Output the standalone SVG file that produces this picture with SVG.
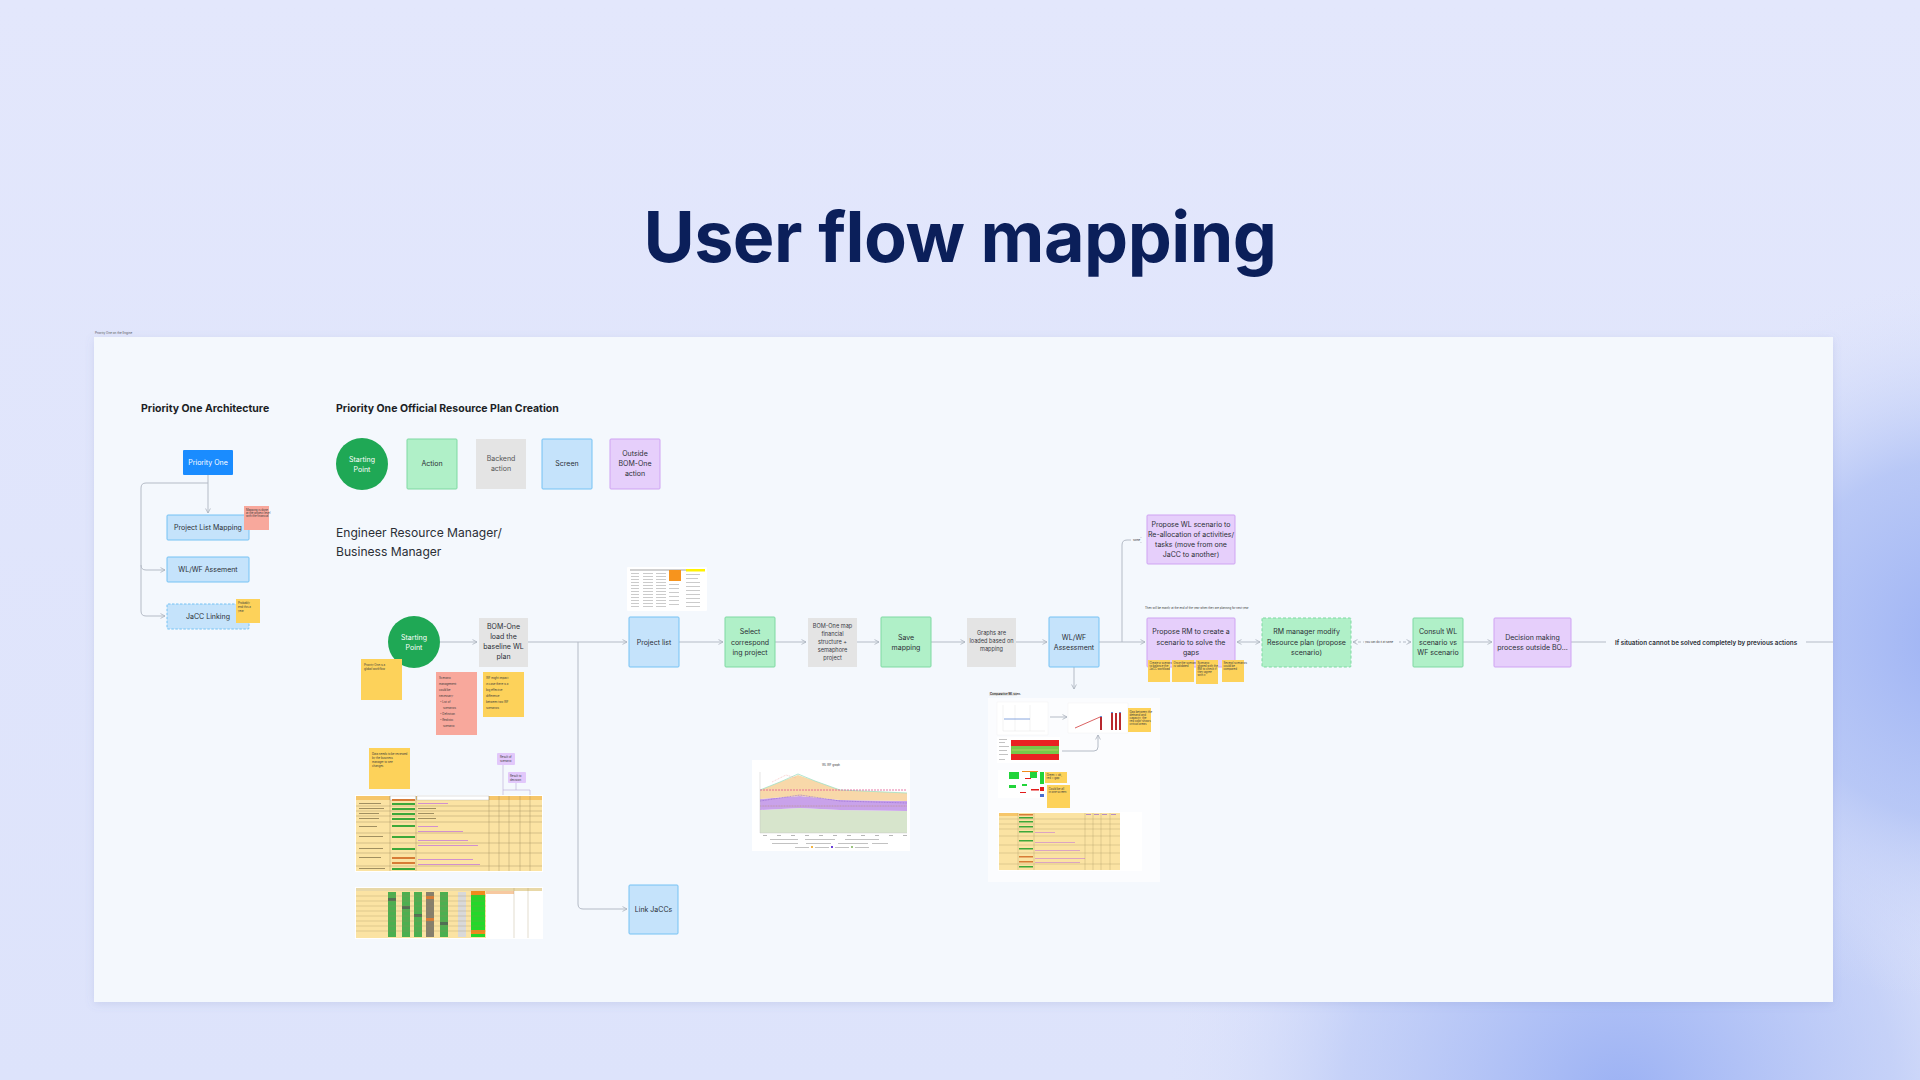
<svg xmlns="http://www.w3.org/2000/svg" width="1920" height="1080" viewBox="0 0 1920 1080">
<defs>
<linearGradient id="bg" x1="0" y1="0" x2="0" y2="1">
<stop offset="0" stop-color="#e3e7fc"/>
<stop offset="1" stop-color="#dde3fb"/>
</linearGradient>
<radialGradient id="glow1" cx="1620" cy="1100" r="460" gradientUnits="userSpaceOnUse">
<stop offset="0" stop-color="#9bb1f4"/>
<stop offset="0.6" stop-color="#b6c6f6" stop-opacity="0.6"/>
<stop offset="1" stop-color="#dde3fb" stop-opacity="0"/>
</radialGradient>
<radialGradient id="glow2" cx="1960" cy="640" r="360" gradientUnits="userSpaceOnUse">
<stop offset="0" stop-color="#9db2f4"/>
<stop offset="0.5" stop-color="#afc1f5" stop-opacity="0.8"/>
<stop offset="1" stop-color="#dde3fb" stop-opacity="0"/>
</radialGradient>
<filter id="sh" x="-5%" y="-5%" width="110%" height="115%">
<feDropShadow dx="0" dy="2" stdDeviation="4" flood-color="#6b7bb8" flood-opacity="0.18"/>
</filter>
<marker id="ah" viewBox="0 0 6 6" refX="5.5" refY="3" markerWidth="6" markerHeight="6" orient="auto-start-reverse" markerUnits="userSpaceOnUse">
<path d="M1 0.6 L5.5 3 L1 5.4" fill="none" stroke="#a9b1bd" stroke-width="0.8"/>
</marker>
<style>
.t{font-family:Inter,"Liberation Sans",sans-serif;}
.h{font-family:Inter,"Liberation Sans",sans-serif;font-weight:700;fill:#1c1f26;}
.lbl{font-family:Inter,"Liberation Sans",sans-serif;font-size:7px;fill:#2b2f36;text-anchor:middle;}
.sm{font-family:Inter,"Liberation Sans",sans-serif;font-size:5.6px;fill:#3a3d44;text-anchor:middle;}
.tiny{font-family:Inter,"Liberation Sans",sans-serif;font-size:2.8px;fill:#3a3a3a;}
.c{fill:none;stroke:#b4bbc6;stroke-width:1;}
.ca{fill:none;stroke:#b4bbc6;stroke-width:1;marker-end:url(#ah);}
.green{fill:#b0f0c8;stroke:#7fd9a2;stroke-width:1;}
.grey{fill:#e4e4e4;}
.blue{fill:#c5e3fb;stroke:#74c2f4;stroke-width:1;}
.purple{fill:#e6cffb;stroke:#cfa3f2;stroke-width:1;}
.start{fill:#1fa855;}
.ysticky{fill:#fdd25a;}
.psticky{fill:#f8a89c;}
.shot{fill:#ffffff;}
</style>
</defs>

<rect x="0" y="0" width="1920" height="1080" fill="url(#bg)"/>
<rect x="0" y="0" width="1920" height="1080" fill="url(#glow1)"/>
<rect x="0" y="0" width="1920" height="1080" fill="url(#glow2)"/>

<text class="t" x="960" y="262" font-size="70" font-weight="700" fill="#0b1f5a" text-anchor="middle" letter-spacing="-0.5">User flow mapping</text>

<text class="t" x="95" y="334" font-size="3" fill="#555">Priority One on the Engine</text>
<rect id="canvas" x="94" y="337" width="1739" height="665" fill="#f4f8fd" filter="url(#sh)"/>

<!-- headings -->
<text class="h" x="141" y="412" font-size="10.5">Priority One Architecture</text>
<text class="h" x="336" y="412" font-size="10.5">Priority One Official Resource Plan Creation</text>
<text class="t" x="336" y="537" font-size="12.1" fill="#2b2f36">Engineer Resource Manager/</text>
<text class="t" x="336" y="556" font-size="12.1" fill="#2b2f36">Business Manager</text>

<!-- connectors -->
<g id="connectors">
<path class="ca" d="M208 475 V513"/>
<path class="c" d="M208 483 H146 Q141 483 141 488 V611 Q141 616 146 616 H165" marker-end="url(#ah)"/>
<path class="ca" d="M141 565 Q141 570 146 570 H165"/>
<path class="ca" d="M440 642 H477"/>
<path class="ca" d="M528 642 H627"/>
<path class="ca" d="M578 642 V904 Q578 909 583 909 H627"/>
<path class="ca" d="M679 642 H723"/>
<path class="ca" d="M775 642 H806"/>
<path class="ca" d="M857 642 H879"/>
<path class="ca" d="M931 642 H965"/>
<path class="ca" d="M1016 642 H1047"/>
<path class="ca" d="M1099 642 H1145"/>
<path class="ca" d="M1122 642 V545 Q1122 540 1127 540 H1145"/>
<rect x="1131" y="538" width="14" height="4" fill="#f4f8fd"/>
<text class="tiny" x="1133" y="541">some</text>
<path class="ca" d="M1074 667 V689"/>
<path class="ca" d="M1237 642 H1260" marker-start="url(#ah)"/>
<path class="ca" d="M1353 642 H1411" stroke-dasharray="3 2" marker-start="url(#ah)"/>
<rect x="1364" y="640" width="35" height="4" fill="#f4f8fd"/>
<text class="tiny" x="1365" y="643">you can do it at same</text>
<path class="ca" d="M1463 642 H1492"/>
<path class="c" d="M1571 642 H1606"/>
<path class="c" d="M1806 642 H1833"/>
<text class="t" x="1706" y="644.5" font-size="6.3" font-weight="600" fill="#2b2f36" text-anchor="middle">If situation cannot be solved completely by previous actions</text>
</g>

<!-- architecture -->
<g id="n-priority-one"><rect x="183" y="450" width="50" height="25" rx="1" fill="#1a8cff"/><text class="lbl" x="208" y="465" fill="#ffffff" style="fill:#fff" font-size="6.5">Priority One</text></g>
<g id="n-project-list-mapping"><rect class="blue" x="167" y="515" width="82" height="25" rx="1"/><text class="lbl" x="208" y="530" font-size="6.5">Project List Mapping</text></g>
<g id="n-wlwf-assement"><rect class="blue" x="167" y="557" width="82" height="25" rx="1"/><text class="lbl" x="208" y="572" font-size="6.5">WL/WF Assement</text></g>
<g id="n-jacc-linking"><rect class="blue" x="167" y="604" width="82" height="25" rx="1" stroke-dasharray="2.5 1.5"/><text class="lbl" x="208" y="619" font-size="6.5">JaCC Linking</text></g>
<g id="s-arch-pink"><rect class="psticky" x="244" y="506" width="25" height="24"/>
<text class="tiny" x="246" y="511" font-size="2">Mapping is done</text><text class="tiny" x="246" y="514" font-size="2">at the project level</text><text class="tiny" x="246" y="517" font-size="2">with the financial</text></g>
<g id="s-arch-yellow"><rect class="ysticky" x="236" y="599" width="24" height="24"/>
<text class="tiny" x="238" y="604">Probably</text><text class="tiny" x="238" y="608">end this a</text><text class="tiny" x="238" y="612">year</text></g>

<!-- legend -->
<g id="legend-start"><circle class="start" cx="362" cy="464" r="26"/><text class="lbl" x="362" y="462" style="fill:#fff" font-size="6">Starting</text><text class="lbl" x="362" y="472" style="fill:#fff" font-size="6">Point</text></g>
<g id="legend-action"><rect class="green" x="407" y="439" width="50" height="50" rx="1"/><text class="lbl" x="432" y="466" font-size="6.3">Action</text></g>
<g id="legend-backend"><rect class="grey" x="476" y="439" width="50" height="50"/><text class="lbl" x="501" y="461" font-size="6" style="fill:#555">Backend</text><text class="lbl" x="501" y="471" font-size="6" style="fill:#555">action</text></g>
<g id="legend-screen"><rect class="blue" x="542" y="439" width="50" height="50" rx="1"/><text class="lbl" x="567" y="466" font-size="6.3">Screen</text></g>
<g id="legend-outside"><rect class="purple" x="610" y="439" width="50" height="50" rx="1"/><text class="lbl" x="635" y="456" font-size="6.3">Outside</text><text class="lbl" x="635" y="466" font-size="6.3">BOM-One</text><text class="lbl" x="635" y="476" font-size="6.3">action</text></g>

<!-- main flow -->
<g id="n-start"><circle class="start" cx="414" cy="642" r="26"/><text class="lbl" x="414" y="640" style="fill:#fff" font-size="6.3">Starting</text><text class="lbl" x="414" y="650" style="fill:#fff" font-size="6.3">Point</text></g>
<g id="s-start"><rect class="ysticky" x="361" y="659" width="41" height="41"/><text class="tiny" x="364" y="666">Priority One is a</text><text class="tiny" x="364" y="670">global workflow</text></g>
<g id="n-bom-load"><rect class="grey" x="479" y="618" width="49" height="49"/><text class="lbl" x="503.5" y="629" font-size="6.3">BOM-One</text><text class="lbl" x="503.5" y="639" font-size="6.3">load the</text><text class="lbl" x="503.5" y="649" font-size="6.3">baseline WL</text><text class="lbl" x="503.5" y="659" font-size="6.3">plan</text></g>
<g id="s-scenario"><rect class="psticky" x="436" y="672" width="41" height="63"/>
<text class="tiny" x="439" y="679">Scenario</text><text class="tiny" x="439" y="685">management</text><text class="tiny" x="439" y="691">could be</text><text class="tiny" x="439" y="697">necessary:</text><text class="tiny" x="440" y="703">• List of</text><text class="tiny" x="443" y="709">scenarios</text><text class="tiny" x="440" y="715">• Definition</text><text class="tiny" x="440" y="721">• Realistic</text><text class="tiny" x="443" y="727">scenario</text></g>
<g id="s-wf-impact"><rect class="ysticky" x="483" y="672" width="41" height="45"/>
<text class="tiny" x="486" y="679">WF might impact</text><text class="tiny" x="486" y="685">in case there is a</text><text class="tiny" x="486" y="691">big effective</text><text class="tiny" x="486" y="697">difference</text><text class="tiny" x="486" y="703">between two WF</text><text class="tiny" x="486" y="709">scenarios</text></g>

<!-- project list screenshot -->
<g id="img-project-list">
<rect class="shot" x="627" y="567" width="80" height="44" rx="1"/>
<rect x="630" y="569" width="74" height="2" fill="#d0d0d0"/>
<rect x="686" y="569" width="19" height="2.5" fill="#fff200"/>
<rect x="669" y="570" width="12" height="11" fill="#f7941d"/>
<g fill="#bfbfbf">
<rect x="631" y="573" width="8" height="0.8"/><rect x="631" y="576" width="8" height="0.8"/><rect x="631" y="579" width="8" height="0.8"/><rect x="631" y="582" width="8" height="0.8"/><rect x="631" y="585" width="8" height="0.8"/><rect x="631" y="588" width="8" height="0.8"/><rect x="631" y="591" width="8" height="0.8"/><rect x="631" y="594" width="8" height="0.8"/><rect x="631" y="597" width="8" height="0.8"/><rect x="631" y="600" width="8" height="0.8"/><rect x="631" y="603" width="8" height="0.8"/><rect x="631" y="606" width="8" height="0.8"/>
<rect x="643" y="573" width="10" height="0.8"/><rect x="643" y="576" width="10" height="0.8"/><rect x="643" y="579" width="10" height="0.8"/><rect x="643" y="582" width="10" height="0.8"/><rect x="643" y="585" width="10" height="0.8"/><rect x="643" y="588" width="10" height="0.8"/><rect x="643" y="591" width="10" height="0.8"/><rect x="643" y="594" width="10" height="0.8"/><rect x="643" y="597" width="10" height="0.8"/><rect x="643" y="600" width="10" height="0.8"/><rect x="643" y="603" width="10" height="0.8"/><rect x="643" y="606" width="10" height="0.8"/>
<rect x="656" y="573" width="10" height="0.8"/><rect x="656" y="576" width="10" height="0.8"/><rect x="656" y="579" width="10" height="0.8"/><rect x="656" y="582" width="10" height="0.8"/><rect x="656" y="585" width="10" height="0.8"/><rect x="656" y="588" width="10" height="0.8"/><rect x="656" y="591" width="10" height="0.8"/><rect x="656" y="594" width="10" height="0.8"/><rect x="656" y="597" width="10" height="0.8"/><rect x="656" y="600" width="10" height="0.8"/><rect x="656" y="603" width="10" height="0.8"/><rect x="656" y="606" width="10" height="0.8"/>
<rect x="669" y="584" width="10" height="0.8"/><rect x="669" y="588" width="10" height="0.8"/><rect x="669" y="592" width="10" height="0.8"/><rect x="669" y="596" width="10" height="0.8"/><rect x="669" y="600" width="10" height="0.8"/><rect x="669" y="604" width="10" height="0.8"/>
<rect x="686" y="574" width="14" height="0.8"/><rect x="686" y="578" width="12" height="0.8"/><rect x="686" y="582" width="14" height="0.8"/><rect x="686" y="586" width="14" height="0.8"/><rect x="686" y="590" width="14" height="0.8"/><rect x="686" y="594" width="14" height="0.8"/><rect x="686" y="598" width="14" height="0.8"/><rect x="686" y="602" width="14" height="0.8"/><rect x="686" y="606" width="14" height="0.8"/>
</g>
</g>

<g id="n-project-list"><rect class="blue" x="629" y="617" width="50" height="50" rx="1"/><text class="lbl" x="654" y="644.5">Project list</text></g>
<g id="n-select"><rect class="green" x="725" y="617" width="50" height="50" rx="1"/><text class="lbl" x="750" y="634">Select</text><text class="lbl" x="750" y="644.5">correspond</text><text class="lbl" x="750" y="655">ing project</text></g>
<g id="n-bom-map"><rect class="grey" x="808" y="618" width="49" height="49"/><text class="sm" x="832.5" y="628">BOM-One map</text><text class="sm" x="832.5" y="636">financial</text><text class="sm" x="832.5" y="644">structure +</text><text class="sm" x="832.5" y="652">semaphore</text><text class="sm" x="832.5" y="660">project</text></g>
<g id="n-save"><rect class="green" x="881" y="617" width="50" height="50" rx="1"/><text class="lbl" x="906" y="639.5">Save</text><text class="lbl" x="906" y="650">mapping</text></g>
<g id="n-graphs"><rect class="grey" x="967" y="618" width="49" height="49"/><text class="sm" x="991.5" y="635">Graphs are</text><text class="sm" x="991.5" y="643">loaded based on</text><text class="sm" x="991.5" y="651">mapping</text></g>
<g id="n-wlwf"><rect class="blue" x="1049" y="617" width="50" height="50" rx="1"/><text class="lbl" x="1074" y="639.5">WL/WF</text><text class="lbl" x="1074" y="650">Assessment</text></g>
<g id="n-propose-wl"><rect class="purple" x="1147" y="515" width="88" height="49" rx="1"/><text class="lbl" x="1191" y="527">Propose WL scenario to</text><text class="lbl" x="1191" y="537">Re-allocation of activities/</text><text class="lbl" x="1191" y="547">tasks (move from one</text><text class="lbl" x="1191" y="557">JaCC to another)</text></g>
<text class="tiny" x="1145" y="609" font-size="3">Then will be mainly at the end of the year when they are planning for next year</text>
<g id="n-propose-rm"><rect class="purple" x="1147" y="618" width="88" height="49" rx="1"/><text class="lbl" x="1191" y="634">Propose RM to create a</text><text class="lbl" x="1191" y="644.5">scenario to solve the</text><text class="lbl" x="1191" y="655">gaps</text></g>
<g id="s-rm-notes">
<rect class="ysticky" x="1148" y="660" width="22" height="22"/><text class="tiny" x="1149.5" y="664" font-size="2">Create a scenario</text><text class="tiny" x="1149.5" y="667" font-size="2">to balance the</text><text class="tiny" x="1149.5" y="670" font-size="2">JaCC workload</text>
<rect class="ysticky" x="1172" y="660" width="22" height="22"/><text class="tiny" x="1173.5" y="664" font-size="2">Once the scenario</text><text class="tiny" x="1173.5" y="667" font-size="2">is validated</text>
<rect class="ysticky" x="1196" y="660" width="22" height="24"/><text class="tiny" x="1197.5" y="664" font-size="2">Scenario</text><text class="tiny" x="1197.5" y="667" font-size="2">shared with the</text><text class="tiny" x="1197.5" y="670" font-size="2">BM to check if</text><text class="tiny" x="1197.5" y="673" font-size="2">they agree</text><text class="tiny" x="1197.5" y="676" font-size="2">with it</text>
<rect class="ysticky" x="1222" y="660" width="22" height="22"/><text class="tiny" x="1223.5" y="664" font-size="2">Several scenarios</text><text class="tiny" x="1223.5" y="667" font-size="2">could be</text><text class="tiny" x="1223.5" y="670" font-size="2">compared</text>
</g>
<g id="n-rm-modify"><rect class="green" x="1262" y="618" width="89" height="49" rx="1" stroke-dasharray="3 2"/><text class="lbl" x="1306.5" y="634">RM manager modify</text><text class="lbl" x="1306.5" y="644.5">Resource plan (propose</text><text class="lbl" x="1306.5" y="655">scenario)</text></g>
<g id="n-consult"><rect class="green" x="1413" y="618" width="50" height="49" rx="1"/><text class="lbl" x="1438" y="634">Consult WL</text><text class="lbl" x="1438" y="644.5">scenario vs</text><text class="lbl" x="1438" y="655">WF scenario</text></g>
<g id="n-decision"><rect class="purple" x="1494" y="618" width="77" height="49" rx="1"/><text class="lbl" x="1532.5" y="639.5">Decision making</text><text class="lbl" x="1532.5" y="650">process outside BO...</text></g>

<g id="n-link-jaccs"><rect class="blue" x="629" y="885" width="49" height="49" rx="1"/><text class="lbl" x="653.5" y="911.5">Link JaCCs</text></g>

<!-- left tables -->
<g id="s-tables-note"><rect class="ysticky" x="369" y="748" width="41" height="41"/><text class="tiny" x="372" y="755">Data needs to be reviewed</text><text class="tiny" x="372" y="759">by the business</text><text class="tiny" x="372" y="763">manager to see</text><text class="tiny" x="372" y="767">changes</text></g>
<g id="tag1"><rect x="497" y="753" width="18" height="12" rx="1" fill="#e2c8fb"/><text class="tiny" x="500" y="758" font-size="2.2">Result of</text><text class="tiny" x="500" y="761.5" font-size="2.2">scenario</text></g>
<g id="tag2"><rect x="508" y="772" width="18" height="11" rx="1" fill="#e2c8fb"/><text class="tiny" x="510" y="777" font-size="2.2">Result to</text><text class="tiny" x="510" y="780.5" font-size="2.2">decision</text></g>
<path d="M503 765 V797 M516 783 V790 H503 M516 790 H530 V797" fill="none" stroke="#b9a7d6" stroke-width="0.6"/>
<g id="img-table1">
<rect x="355" y="795" width="188" height="77" fill="#ffffff"/>
<rect x="356" y="796" width="186" height="75" fill="#fbe3a3"/>
<rect x="356" y="796" width="186" height="4" fill="#f6c66a"/>
<rect x="390" y="796" width="26" height="4" fill="#ffffff" stroke="#999" stroke-width="0.3"/>
<rect x="417" y="796" width="72" height="4" fill="#ffffff" stroke="#999" stroke-width="0.3"/>
<g fill="#3da83a"><rect x="392" y="803" width="23" height="2"/><rect x="392" y="808" width="23" height="2"/><rect x="392" y="813" width="23" height="2"/><rect x="392" y="818" width="23" height="2"/><rect x="392" y="825" width="23" height="2"/><rect x="392" y="836" width="23" height="2"/><rect x="392" y="848" width="23" height="2"/><rect x="392" y="868" width="23" height="2"/></g>
<g fill="#d77b36"><rect x="392" y="799" width="23" height="2"/><rect x="392" y="857" width="23" height="2"/><rect x="392" y="862" width="23" height="2"/></g>
<g fill="#c77bd8"><rect x="418" y="803" width="30" height="0.8"/><rect x="418" y="826" width="20" height="0.8"/><rect x="418" y="831" width="45" height="0.8"/><rect x="418" y="840" width="50" height="0.8"/><rect x="418" y="845" width="60" height="0.8"/><rect x="418" y="859" width="55" height="0.8"/><rect x="418" y="864" width="62" height="0.8"/></g>
<g fill="#8a7a50"><rect x="359" y="803" width="22" height="0.8"/><rect x="359" y="808" width="25" height="0.8"/><rect x="359" y="813" width="20" height="0.8"/><rect x="359" y="818" width="20" height="0.8"/><rect x="359" y="826" width="18" height="0.8"/><rect x="359" y="836" width="24" height="0.8"/><rect x="359" y="848" width="24" height="0.8"/><rect x="359" y="857" width="22" height="0.8"/><rect x="359" y="868" width="26" height="0.8"/><rect x="418" y="808" width="18" height="0.8"/><rect x="418" y="813" width="16" height="0.8"/><rect x="418" y="818" width="18" height="0.8"/></g>
<g stroke="#9c8a5a" stroke-width="0.4"><path d="M390 796 V871 M416 796 V871 M489 796 V871 M499 796 V871 M509 796 V871 M520 796 V871 M530 796 V871"/><path d="M356 806 H542 M356 811 H542 M356 816 H542 M356 822 H542 M356 833 H542 M356 843 H542 M356 853 H542 M356 866 H542"/></g>
</g>
<g id="img-table2">
<rect x="355" y="887" width="188" height="52" fill="#ffffff"/>
<rect x="356" y="888" width="130" height="50" fill="#fbe3a3"/>
<rect x="356" y="888" width="186" height="3" fill="#e8d8a8"/>
<g fill="#4caf50"><rect x="388" y="892" width="8" height="45"/><rect x="402" y="892" width="8" height="45"/><rect x="414" y="892" width="8" height="45"/><rect x="440" y="892" width="8" height="45"/></g>
<g fill="#555" opacity="0.7"><rect x="388" y="898" width="8" height="3"/><rect x="402" y="906" width="8" height="3"/><rect x="414" y="914" width="8" height="3"/><rect x="426" y="892" width="8" height="45"/><rect x="440" y="922" width="8" height="3"/></g>
<rect x="426" y="896" width="8" height="3" fill="#d77b36"/><rect x="426" y="918" width="8" height="3" fill="#d77b36"/>
<rect x="458" y="892" width="8" height="45" fill="#d9d9d9"/>
<rect x="471" y="892" width="14" height="45" fill="#24d82a"/>
<rect x="471" y="891" width="14" height="4" fill="#f08a1c"/><rect x="471" y="930" width="14" height="4" fill="#f08a1c"/>
<rect x="486" y="891" width="28" height="3" fill="#f7c9a0"/>
<g stroke="#9c8a5a" stroke-width="0.3"><path d="M356 896 H486 M356 901 H486 M356 906 H486 M356 911 H486 M356 916 H486 M356 921 H486 M356 926 H486 M356 931 H486"/><path d="M514 888 V938 M528 888 V938"/></g>
</g>

<!-- WL WF graph -->
<g id="img-graph">
<rect x="752" y="760" width="158" height="91" fill="#ffffff"/>
<text class="tiny" x="831" y="765.5" text-anchor="middle" style="text-anchor:middle" font-size="3" fill="#777">WL WF graph</text>
<path d="M760 833 V810 L800 808 L840 810 L907 811 V833 Z" fill="#d7e5cc"/>
<path d="M760 810 V799 L800 796 L840 800 L907 801 V811 L840 810 L800 808 Z" fill="#c9a2ea"/>
<path d="M760 799 V790 L780 782 L798 775 L815 781 L840 790 L907 793 V801 L840 800 L800 796 Z" fill="#f8d8a9"/>
<path d="M760 790 L780 782 L798 774 L815 781 L840 790 L907 793" fill="none" stroke="#9fe0c4" stroke-width="0.8"/>
<path d="M772 782 L786 775 L796 778" fill="none" stroke="#f0a3a0" stroke-width="0.5" stroke-dasharray="1 0.7"/>
<path d="M760 790 H907" stroke="#e0558f" stroke-width="0.8" stroke-dasharray="2 1"/>
<path d="M760 801 L800 795 L840 801 L907 803" fill="none" stroke="#8a5fd1" stroke-width="0.6" stroke-dasharray="1 0.6"/>
<path d="M760 806 L840 806 L907 806" fill="none" stroke="#b48d66" stroke-width="0.5" stroke-dasharray="1 0.6"/>
<path d="M760 772 V833 H907" fill="none" stroke="#bbb" stroke-width="0.4"/>
<g fill="#999"><rect x="763" y="835" width="4" height="0.7"/><rect x="777" y="835" width="4" height="0.7"/><rect x="791" y="835" width="4" height="0.7"/><rect x="805" y="835" width="4" height="0.7"/><rect x="819" y="835" width="4" height="0.7"/><rect x="833" y="835" width="4" height="0.7"/><rect x="847" y="835" width="4" height="0.7"/><rect x="861" y="835" width="4" height="0.7"/><rect x="875" y="835" width="4" height="0.7"/><rect x="889" y="835" width="4" height="0.7"/><rect x="903" y="835" width="4" height="0.7"/></g>
<g fill="#a8a8a8"><rect x="770" y="839" width="28" height="0.7"/><rect x="805" y="839" width="30" height="0.7"/><rect x="845" y="839" width="34" height="0.7"/><rect x="772" y="843" width="26" height="0.7"/><rect x="806" y="843" width="25" height="0.7"/><rect x="838" y="843" width="30" height="0.7"/><rect x="872" y="843" width="16" height="0.7"/><rect x="795" y="847" width="14" height="0.7"/><rect x="815" y="847" width="14" height="0.7"/><rect x="835" y="847" width="14" height="0.7"/><rect x="855" y="847" width="14" height="0.7"/></g>
<rect x="811" y="846" width="2" height="2" fill="#f2b544"/><rect x="831" y="846" width="2" height="2" fill="#6a3fd8"/><rect x="851" y="846" width="2" height="2" fill="#9cc480"/>
</g>

<!-- WL/WF comparison group -->
<g id="img-comparison">
<rect x="988" y="698" width="172" height="184" fill="#ffffff" opacity="0.6"/>
<rect x="989" y="692" width="28" height="4" fill="#e6e6e6"/>
<text class="tiny" x="990" y="695.2" font-size="2.6" font-weight="700">Comparative WL scen.</text>
<rect x="997" y="702" width="51" height="33" fill="#ffffff" stroke="#eee" stroke-width="0.4"/>
<path d="M1003 705 V731 H1045 M1015 705 V731 M1030 705 V731" fill="none" stroke="#ddd" stroke-width="0.4"/>
<path d="M1004 719 H1030" stroke="#6b8fd6" stroke-width="0.8"/>
<rect x="1068" y="703" width="60" height="30" fill="#ffffff" stroke="#eee" stroke-width="0.4"/>
<path d="M1075 728 L1100 717" stroke="#d03a3a" stroke-width="0.8"/>
<g fill="#b8282e"><rect x="1100" y="717" width="2" height="13"/><rect x="1111" y="713" width="2" height="17"/><rect x="1115" y="713" width="2" height="17"/><rect x="1119" y="713" width="2" height="17"/></g>
<g fill="#6b8fd6"><rect x="1100" y="716" width="2" height="1"/><rect x="1111" y="712" width="2" height="1"/><rect x="1119" y="712" width="2" height="1"/></g>
<path class="ca" d="M1050 717 H1067"/>
<rect class="ysticky" x="1128" y="708" width="23" height="24"/>
<text class="tiny" x="1129.5" y="712.5" font-size="2">Gap between the</text><text class="tiny" x="1129.5" y="715.5" font-size="2">demand and</text><text class="tiny" x="1129.5" y="718.5" font-size="2">capacity, the</text><text class="tiny" x="1129.5" y="721.5" font-size="2">red color shows</text><text class="tiny" x="1129.5" y="724.5" font-size="2">critical areas</text>
<rect x="997" y="737" width="63" height="26" fill="#ffffff"/>
<rect x="1011" y="740" width="48" height="6" fill="#ea2222"/>
<rect x="1011" y="746" width="48" height="8" fill="#78c94a"/>
<rect x="1011" y="754" width="48" height="6" fill="#ea2222"/>
<path d="M1012 750 H1058" stroke="#e8e07a" stroke-width="0.5"/>
<g fill="#aaa"><rect x="999" y="739" width="8" height="0.7"/><rect x="999" y="742" width="6" height="0.7"/><rect x="999" y="746" width="10" height="0.7"/><rect x="999" y="750" width="8" height="0.7"/><rect x="999" y="754" width="9" height="0.7"/><rect x="999" y="759" width="6" height="0.7"/></g>
<path class="ca" d="M1062 751 H1094 Q1098 751 1098 747 V735"/>
<rect x="998" y="770" width="47" height="28" fill="#ffffff"/>
<g fill="#22d43a"><rect x="1009" y="772" width="10" height="7"/><rect x="1030" y="772" width="7" height="6"/><rect x="1040" y="772" width="4" height="12"/><rect x="1009" y="785" width="7" height="3"/><rect x="1022" y="784" width="5" height="2"/></g>
<g fill="#e21b1b"><rect x="1025" y="778" width="6" height="1"/><rect x="1031" y="789" width="8" height="1.5"/><rect x="1040" y="787" width="4" height="4"/><rect x="1020" y="792" width="6" height="1"/></g>
<rect x="1022" y="771" width="16" height="1" fill="#f08a1c"/>
<rect x="1040" y="794" width="4" height="3" fill="#4a6fd0"/>
<rect class="ysticky" x="1045" y="772" width="22" height="11"/>
<text class="tiny" x="1046.5" y="776" font-size="2">Green = ok,</text><text class="tiny" x="1046.5" y="779" font-size="2">red = gap</text>
<rect class="ysticky" x="1047" y="785" width="23" height="23"/>
<text class="tiny" x="1048.5" y="790" font-size="2">Could be all</text><text class="tiny" x="1048.5" y="793" font-size="2">in one screen</text>
<rect x="998" y="812" width="144" height="59" fill="#ffffff"/>
<rect x="999" y="813" width="121" height="57" fill="#fbe3a3"/>
<rect x="999" y="813" width="19" height="3" fill="#f6c66a"/>
<g fill="#3da83a"><rect x="1019" y="817" width="14" height="1.5"/><rect x="1019" y="821" width="14" height="1.5"/><rect x="1019" y="826" width="14" height="1.5"/><rect x="1019" y="831" width="14" height="1.5"/><rect x="1019" y="840" width="14" height="1.5"/><rect x="1019" y="848" width="14" height="1.5"/><rect x="1019" y="866" width="14" height="1.5"/></g>
<g fill="#d77b36"><rect x="1019" y="814" width="14" height="1.5"/><rect x="1019" y="856" width="14" height="1.5"/><rect x="1019" y="861" width="14" height="1.5"/></g>
<g fill="#c77bd8"><rect x="1035" y="832" width="20" height="0.6"/><rect x="1035" y="842" width="40" height="0.6"/><rect x="1035" y="850" width="45" height="0.6"/><rect x="1035" y="858" width="50" height="0.6"/><rect x="1035" y="862" width="45" height="0.6"/></g>
<g stroke="#9c8a5a" stroke-width="0.3"><path d="M1018 813 V870 M1034 813 V870 M1085 813 V870 M1093 813 V870 M1101 813 V870 M1110 813 V870"/><path d="M999 819 H1120 M999 824 H1120 M999 829 H1120 M999 836 H1120 M999 845 H1120 M999 853 H1120 M999 864 H1120"/></g>
<g fill="#8b57d8"><rect x="1086" y="814" width="5" height="0.6"/><rect x="1094" y="814" width="5" height="0.6"/><rect x="1102" y="814" width="5" height="0.6"/><rect x="1111" y="814" width="5" height="0.6"/></g>
</g>
</svg>
